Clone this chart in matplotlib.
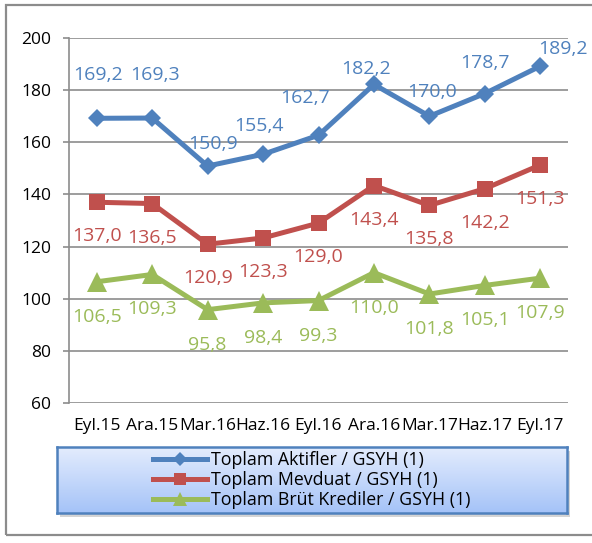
import matplotlib
matplotlib.use("Agg")
import matplotlib.pyplot as plt
import numpy as np
from matplotlib.patches import Rectangle
from matplotlib.colors import LinearSegmentedColormap

plt.rcParams['font.family'] = ['Open Sans', 'DejaVu Sans']

categories = ["Eyl.15", "Ara.15", "Mar.16", "Haz.16", "Eyl.16", "Ara.16", "Mar.17", "Haz.17", "Eyl.17"]
aktifler = [169.2, 169.3, 150.9, 155.4, 162.7, 182.2, 170.0, 178.7, 189.2]
mevduat = [137.0, 136.5, 120.9, 123.3, 129.0, 143.4, 135.8, 142.2, 151.3]
krediler = [106.5, 109.3, 95.8, 98.4, 99.3, 110.0, 101.8, 105.1, 107.9]
series_names = ["Toplam Aktifler / GSYH (1)", "Toplam Mevduat / GSYH (1)", "Toplam Brüt Krediler / GSYH (1)"]
y_ticks = [60, 80, 100, 120, 140, 160, 180, 200]

BLUE = "#4f81bd"
RED = "#c0504d"
GREEN = "#9bbb59"
GRID = "#8c8c8c"

W, H = 592, 543
fig = plt.figure(figsize=(W / 100, H / 100), dpi=100)

# outer border
fig.patches.append(Rectangle((6 / W, 1 - 535 / H), (W + 10) / W, (535 - 5) / H,
                             transform=fig.transFigure, fill=False,
                             edgecolor="#8c8c8c", linewidth=1.6, zorder=0))

ax = fig.add_axes([69 / W, 1 - 403 / H, (568 - 69) / W, (403 - 38) / H])
x = np.arange(len(categories))

l1, = ax.plot(x, aktifler, color=BLUE, lw=3.6, marker='D', ms=9.5, mew=0, zorder=5)
l2, = ax.plot(x, mevduat, color=RED, lw=3.6, marker='s', ms=12, mew=0, zorder=5)
l3, = ax.plot(x, krediler, color=GREEN, lw=3.6, marker='^', ms=14, mew=0, zorder=5)

def fmt(v):
    return f"{v:.1f}".replace(".", ",")

blue_dx = [1, 3, 5, -4, -13, -8, 3, 0, 23]
blue_dy = [43, 43, 22, 28, 37, 15, 24, 31, 17]
LBL = 14
for i, v in enumerate(aktifler):
    ax.annotate(fmt(v), (x[i], v), xytext=(blue_dx[i], blue_dy[i]), textcoords='offset pixels',
                ha='center', va='center', color=BLUE, fontsize=LBL, zorder=6, annotation_clip=False)
for i, v in enumerate(mevduat):
    ax.annotate(fmt(v), (x[i], v), xytext=(0, -34), textcoords='offset pixels',
                ha='center', va='center', color=RED, fontsize=LBL, zorder=6, annotation_clip=False)
for i, v in enumerate(krediler):
    ax.annotate(fmt(v), (x[i], v), xytext=(0, -35), textcoords='offset pixels',
                ha='center', va='center', color=GREEN, fontsize=LBL, zorder=6, annotation_clip=False)

ax.set_xlim(-0.5, len(categories) - 0.5)
ax.set_ylim(60, 200)
ax.set_yticks(y_ticks)
ax.set_xticks(x)
ax.set_xticklabels(categories)
ax.yaxis.grid(True, color=GRID, linewidth=1.2)
ax.set_axisbelow(True)
for s in ["top", "right", "bottom"]:
    ax.spines[s].set_visible(False)
ax.spines["left"].set_color(GRID)
ax.spines["left"].set_linewidth(1.2)
ax.tick_params(axis='y', direction='out', length=4, width=1.2, color=GRID, pad=9,
               labelsize=12.5, labelcolor="black")
ax.tick_params(axis='x', length=0, pad=11, labelsize=12.5, labelcolor="black")

# legend box with gradient
lx0, lx1, ly0, ly1 = 57, 567, 447, 513
shadow = fig.add_axes([(lx0 + 3) / W, 1 - (ly1 + 4) / H, (lx1 - lx0) / W, (ly1 - ly0) / H])
shadow.set_facecolor("#d4d4d4")
shadow.set_xticks([]); shadow.set_yticks([])
for s in shadow.spines.values():
    s.set_visible(False)
lax = fig.add_axes([lx0 / W, 1 - ly1 / H, (lx1 - lx0) / W, (ly1 - ly0) / H])
grad = np.linspace(0, 1, 100).reshape(-1, 1)
cmap = LinearSegmentedColormap.from_list("g", ["#e3ecfd", "#a5c3f8"])
lax.imshow(grad, aspect='auto', cmap=cmap, extent=[0, 1, 0, 1], origin='upper')
lax.set_xlim(0, 1); lax.set_ylim(0, 1)
lax.set_xticks([]); lax.set_yticks([])
for s in lax.spines.values():
    s.set_color(BLUE)
    s.set_linewidth(1.8)
leg = lax.legend([l1, l2, l3], series_names, loc='center', frameon=False,
                 fontsize=12.8, handlelength=3.0, handletextpad=0.25, labelspacing=0.1,
                 borderaxespad=0, markerscale=0.75)

fig.savefig("out.png", dpi=100)
